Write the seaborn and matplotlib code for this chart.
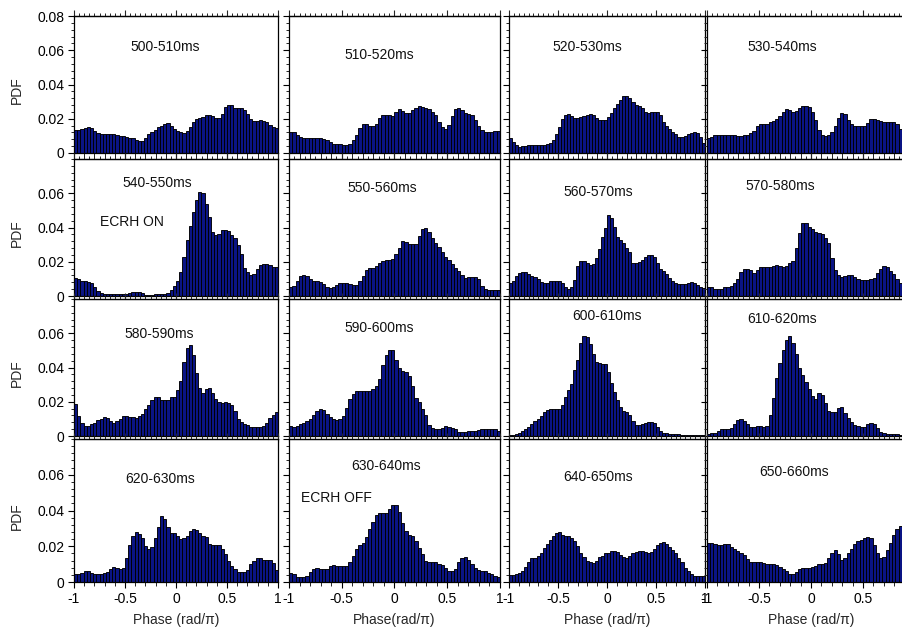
import numpy as np
import pandas as pd
import matplotlib
matplotlib.use("Agg")
import matplotlib.pyplot as plt
from matplotlib.ticker import MultipleLocator, FixedLocator, FuncFormatter
import seaborn as sns

sns.set_style("ticks")
plt.rcParams['font.family'] = ['Liberation Sans', 'DejaVu Sans']

# ---------------- data (PDF per phase bin, 64 bins from -1 to 1) ----------------
phase_min, phase_max, n_bins = -1.0, 1.0, 64

pdf_500_510 = [0.0137, 0.0135, 0.014, 0.0145, 0.015, 0.0148, 0.013, 0.0115, 0.011, 0.011, 0.011, 0.011, 0.011, 0.0105, 0.010, 0.010,
               0.0095, 0.009, 0.0085, 0.0078, 0.007, 0.0068, 0.0085, 0.011, 0.012, 0.0135, 0.015, 0.016, 0.017, 0.0175, 0.016, 0.014,
               0.013, 0.012, 0.0115, 0.013, 0.015, 0.018, 0.020, 0.0205, 0.021, 0.022, 0.022, 0.0215, 0.0205, 0.0205, 0.023, 0.027,
               0.028, 0.028, 0.0265, 0.0265, 0.026, 0.025, 0.0225, 0.020, 0.0185, 0.0185, 0.019, 0.0185, 0.018, 0.0165, 0.015, 0.0145]
pdf_510_520 = [0.012, 0.012, 0.0105, 0.0095, 0.0088, 0.0088, 0.0085, 0.0085, 0.0085, 0.0088, 0.0082, 0.0075, 0.0065, 0.0055, 0.0055, 0.0052,
               0.0045, 0.0045, 0.0052, 0.0075, 0.0105, 0.0145, 0.0168, 0.0168, 0.016, 0.0158, 0.017, 0.0205, 0.022, 0.0222, 0.022, 0.0215,
               0.024, 0.0255, 0.0248, 0.0235, 0.0235, 0.025, 0.0265, 0.0272, 0.027, 0.026, 0.0255, 0.024, 0.022, 0.018, 0.015, 0.0143,
               0.0165, 0.0215, 0.0255, 0.026, 0.025, 0.0235, 0.0225, 0.022, 0.019, 0.016, 0.0135, 0.0125, 0.0125, 0.0125, 0.0128, 0.0128]
pdf_520_530 = [0.0085, 0.0065, 0.0045, 0.0035, 0.0038, 0.0042, 0.0045, 0.0045, 0.0045, 0.0045, 0.0045, 0.0048, 0.0052, 0.0058, 0.0075, 0.011,
               0.015, 0.020, 0.0222, 0.0225, 0.0215, 0.0205, 0.0205, 0.0208, 0.0215, 0.0222, 0.0225, 0.022, 0.0205, 0.0195, 0.0195, 0.0195,
               0.021, 0.0235, 0.026, 0.0285, 0.031, 0.0332, 0.0335, 0.032, 0.0295, 0.028, 0.0275, 0.0265, 0.024, 0.0232, 0.024, 0.0242,
               0.0242, 0.022, 0.018, 0.0155, 0.014, 0.0125, 0.011, 0.0095, 0.0093, 0.0098, 0.011, 0.0118, 0.012, 0.0118, 0.0095, 0.006]
pdf_530_540 = [0.0085, 0.0095, 0.0103, 0.0104, 0.0104, 0.0104, 0.0104, 0.0106, 0.0106, 0.0102, 0.0102, 0.0106, 0.0108, 0.0115, 0.013, 0.0158,
               0.0168, 0.0168, 0.0168, 0.018, 0.0188, 0.020, 0.0215, 0.024, 0.0255, 0.025, 0.0238, 0.0245, 0.026, 0.0272, 0.0275, 0.027,
               0.024, 0.019, 0.0135, 0.0105, 0.0102, 0.0105, 0.012, 0.0155, 0.0205, 0.0235, 0.0225, 0.0195, 0.017, 0.016, 0.0158, 0.0158,
               0.016, 0.0178, 0.0198, 0.020, 0.0192, 0.0188, 0.0182, 0.018, 0.018, 0.018, 0.0168, 0.014, 0.0125, 0.012, 0.0115, 0.011]
pdf_540_550 = [0.0108, 0.0098, 0.009, 0.0085, 0.0082, 0.0075, 0.0055, 0.003, 0.0015, 0.0013, 0.0013, 0.0013, 0.0013, 0.0013, 0.0013, 0.0013,
               0.0013, 0.0018, 0.0022, 0.0022, 0.0022, 0.0018, 0.0008, 0.0006, 0.0008, 0.0012, 0.0012, 0.0012, 0.0014, 0.002, 0.0035, 0.006,
               0.0085, 0.014, 0.023, 0.0325, 0.041, 0.049, 0.056, 0.0605, 0.060, 0.054, 0.046, 0.0375, 0.0355, 0.036, 0.0385, 0.0388,
               0.038, 0.0355, 0.034, 0.0295, 0.0245, 0.0165, 0.0138, 0.0125, 0.013, 0.0155, 0.018, 0.0185, 0.0185, 0.018, 0.0172, 0.017]
pdf_550_560 = [0.0052, 0.006, 0.0085, 0.0115, 0.0125, 0.0118, 0.0098, 0.009, 0.0088, 0.0082, 0.007, 0.0052, 0.0045, 0.0052, 0.0065, 0.0078,
               0.0078, 0.0075, 0.0068, 0.0062, 0.0065, 0.0085, 0.0118, 0.015, 0.0162, 0.0165, 0.0175, 0.0192, 0.0205, 0.021, 0.0208, 0.0215,
               0.0245, 0.028, 0.032, 0.0315, 0.0305, 0.0303, 0.0303, 0.035, 0.039, 0.0395, 0.0372, 0.034, 0.031, 0.0288, 0.0258, 0.0228,
               0.021, 0.0188, 0.0162, 0.0145, 0.0125, 0.0105, 0.011, 0.0112, 0.011, 0.0098, 0.006, 0.004, 0.0037, 0.0036, 0.0036, 0.0036]
pdf_560_570 = [0.0078, 0.009, 0.0118, 0.0132, 0.014, 0.0138, 0.0128, 0.0115, 0.0112, 0.0098, 0.0082, 0.0074, 0.0075, 0.0085, 0.0088, 0.0088,
               0.0085, 0.0075, 0.0052, 0.0038, 0.005, 0.0095, 0.0175, 0.0205, 0.0205, 0.0195, 0.018, 0.0185, 0.022, 0.0275, 0.0345, 0.040,
               0.0475, 0.0455, 0.0405, 0.0345, 0.0325, 0.031, 0.028, 0.0255, 0.0195, 0.019, 0.020, 0.021, 0.0228, 0.0242, 0.024, 0.0225,
               0.0195, 0.016, 0.0148, 0.0128, 0.0108, 0.009, 0.0078, 0.0072, 0.007, 0.0072, 0.0078, 0.008, 0.0078, 0.0065, 0.0052, 0.0048]
pdf_570_580 = [0.0055, 0.0052, 0.004, 0.004, 0.004, 0.005, 0.0052, 0.006, 0.0075, 0.0098, 0.0142, 0.016, 0.016, 0.015, 0.0132, 0.015,
               0.0168, 0.0172, 0.0172, 0.0172, 0.0178, 0.0182, 0.0178, 0.017, 0.0175, 0.019, 0.0205, 0.028, 0.0365, 0.0425, 0.0428, 0.0405,
               0.039, 0.0375, 0.037, 0.0362, 0.034, 0.031, 0.022, 0.015, 0.012, 0.0112, 0.0115, 0.0122, 0.0122, 0.011, 0.0098, 0.0094,
               0.0094, 0.0096, 0.010, 0.0108, 0.0135, 0.0158, 0.0175, 0.017, 0.0148, 0.0128, 0.0102, 0.0078, 0.0074, 0.007, 0.0065, 0.006]
pdf_580_590 = [0.0185, 0.0115, 0.0078, 0.006, 0.006, 0.007, 0.0078, 0.0092, 0.0102, 0.011, 0.0105, 0.0088, 0.0075, 0.0085, 0.0102, 0.0115,
               0.0118, 0.0112, 0.011, 0.0108, 0.0115, 0.013, 0.0155, 0.018, 0.021, 0.0228, 0.0228, 0.021, 0.0208, 0.0212, 0.0228, 0.0228,
               0.027, 0.032, 0.0435, 0.0512, 0.053, 0.0475, 0.0365, 0.0278, 0.025, 0.0275, 0.0278, 0.025, 0.0215, 0.0198, 0.0195, 0.020,
               0.0195, 0.018, 0.0145, 0.0102, 0.008, 0.0068, 0.0062, 0.0055, 0.0052, 0.0052, 0.0052, 0.0058, 0.0078, 0.0108, 0.0125, 0.014]
pdf_590_600 = [0.0058, 0.0055, 0.0058, 0.0068, 0.0078, 0.0085, 0.0098, 0.0125, 0.0148, 0.0155, 0.015, 0.013, 0.0112, 0.0102, 0.0095, 0.0098,
               0.0118, 0.0165, 0.0215, 0.0245, 0.026, 0.026, 0.026, 0.026, 0.0262, 0.0275, 0.0292, 0.033, 0.0415, 0.0475, 0.0505, 0.0505,
               0.0445, 0.040, 0.0382, 0.0375, 0.035, 0.029, 0.022, 0.0198, 0.0158, 0.012, 0.0065, 0.0045, 0.0043, 0.0043, 0.0048, 0.0058,
               0.0055, 0.0045, 0.0038, 0.0025, 0.0023, 0.0023, 0.0028, 0.0028, 0.003, 0.0035, 0.0038, 0.0039, 0.0042, 0.0042, 0.0042, 0.0032]
pdf_600_610 = [0.0004, 0.0005, 0.001, 0.0018, 0.0028, 0.0038, 0.0055, 0.0068, 0.0085, 0.0098, 0.0115, 0.0138, 0.0152, 0.0158, 0.0156, 0.0156,
               0.0158, 0.018, 0.0225, 0.027, 0.0305, 0.0385, 0.0445, 0.0545, 0.0585, 0.058, 0.054, 0.048, 0.0435, 0.0428, 0.042, 0.042,
               0.0375, 0.031, 0.0255, 0.021, 0.0172, 0.0145, 0.014, 0.0122, 0.0085, 0.0065, 0.0062, 0.0068, 0.0078, 0.0082, 0.0082, 0.0075,
               0.0055, 0.0032, 0.002, 0.0016, 0.0014, 0.0014, 0.0012, 0.0009, 0.0008, 0.0008, 0.0008, 0.0006, 0.0004, 0.0004, 0.0003, 0.0003]
pdf_610_620 = [0.0014, 0.0016, 0.002, 0.0027, 0.0038, 0.0043, 0.0043, 0.0046, 0.0068, 0.0095, 0.0102, 0.009, 0.0068, 0.005, 0.0055, 0.0058,
               0.0058, 0.0055, 0.0058, 0.012, 0.022, 0.034, 0.0425, 0.0505, 0.056, 0.0585, 0.0545, 0.048, 0.040, 0.0355, 0.0315, 0.0275,
               0.0235, 0.0218, 0.025, 0.024, 0.019, 0.0145, 0.0138, 0.0138, 0.0162, 0.0168, 0.0135, 0.0105, 0.0082, 0.0065, 0.006, 0.0055,
               0.0052, 0.0068, 0.0078, 0.0072, 0.0045, 0.0022, 0.0015, 0.0014, 0.0014, 0.0014, 0.0012, 0.0008, 0.0018, 0.002, 0.002, 0.002]
pdf_620_630 = [0.0042, 0.0045, 0.0053, 0.0062, 0.006, 0.0052, 0.0043, 0.0042, 0.0043, 0.0048, 0.0058, 0.007, 0.0082, 0.0078, 0.0075, 0.0078,
               0.0135, 0.0205, 0.0255, 0.0282, 0.027, 0.0245, 0.020, 0.0185, 0.0198, 0.0245, 0.0305, 0.0372, 0.0355, 0.0305, 0.0275, 0.0272,
               0.0255, 0.0238, 0.0245, 0.0255, 0.0285, 0.0295, 0.0292, 0.0275, 0.0255, 0.0252, 0.0212, 0.0205, 0.0205, 0.0205, 0.0182, 0.0155,
               0.012, 0.009, 0.007, 0.0055, 0.0055, 0.0055, 0.0065, 0.0098, 0.012, 0.0132, 0.0132, 0.0125, 0.0122, 0.0122, 0.0105, 0.0065]
pdf_630_640 = [0.005, 0.0042, 0.0028, 0.0026, 0.0028, 0.0035, 0.0055, 0.0072, 0.0078, 0.0072, 0.007, 0.0075, 0.0088, 0.0093, 0.009, 0.0088,
               0.0088, 0.009, 0.011, 0.0148, 0.0182, 0.0205, 0.022, 0.025, 0.0295, 0.0335, 0.0375, 0.0385, 0.0387, 0.0387, 0.041, 0.043,
               0.0432, 0.039, 0.033, 0.0285, 0.0265, 0.026, 0.0232, 0.019, 0.0155, 0.0115, 0.0112, 0.0112, 0.0112, 0.0102, 0.0097, 0.0078,
               0.0062, 0.006, 0.007, 0.011, 0.0135, 0.0138, 0.0125, 0.0098, 0.008, 0.0068, 0.0064, 0.0062, 0.0052, 0.0045, 0.0035, 0.003]
pdf_640_650 = [0.0037, 0.0038, 0.0042, 0.005, 0.0064, 0.0085, 0.011, 0.0135, 0.0135, 0.0145, 0.0165, 0.019, 0.021, 0.0235, 0.0256, 0.0275,
               0.028, 0.0265, 0.0258, 0.0256, 0.0245, 0.0232, 0.020, 0.0165, 0.014, 0.012, 0.011, 0.0107, 0.0118, 0.0138, 0.0145, 0.016,
               0.0165, 0.0172, 0.0175, 0.017, 0.015, 0.0138, 0.0135, 0.0145, 0.016, 0.017, 0.0172, 0.0172, 0.0168, 0.0165, 0.017, 0.0185,
               0.0205, 0.022, 0.0225, 0.021, 0.0195, 0.018, 0.016, 0.0135, 0.011, 0.008, 0.006, 0.0045, 0.0033, 0.0032, 0.0032, 0.0032]
pdf_650_660 = [0.022, 0.0218, 0.0212, 0.0205, 0.0205, 0.021, 0.0215, 0.0198, 0.0185, 0.0172, 0.0162, 0.0152, 0.0128, 0.0112, 0.0112, 0.0112,
               0.0112, 0.0105, 0.0103, 0.0103, 0.0102, 0.0095, 0.0082, 0.0072, 0.006, 0.0047, 0.0043, 0.0058, 0.0075, 0.008, 0.008, 0.008,
               0.0085, 0.0092, 0.0103, 0.0103, 0.0108, 0.0135, 0.016, 0.018, 0.0155, 0.0122, 0.0135, 0.016, 0.0185, 0.0215, 0.0228, 0.0237,
               0.0245, 0.0252, 0.0245, 0.0206, 0.016, 0.0135, 0.014, 0.018, 0.022, 0.0265, 0.0295, 0.0315, 0.0325, 0.033, 0.033, 0.033]

panel_series = [pdf_500_510, pdf_510_520, pdf_520_530, pdf_530_540,
                pdf_540_550, pdf_550_560, pdf_560_570, pdf_570_580,
                pdf_580_590, pdf_590_600, pdf_600_610, pdf_610_620,
                pdf_620_630, pdf_630_640, pdf_640_650, pdf_650_660]
panel_titles = ["500-510ms", "510-520ms", "520-530ms", "530-540ms",
                "540-550ms", "550-560ms", "560-570ms", "570-580ms",
                "580-590ms", "590-600ms", "600-610ms", "610-620ms",
                "620-630ms", "630-640ms", "640-650ms", "650-660ms"]
notes = {4: "ECRH ON", 13: "ECRH OFF"}
x_tick_values = [-1, -0.5, 0, 0.5, 1]
x_tick_labels_by_col = [["-1", "-0.5", "0", "0.5", "1"],
                        ["-1", "-0.5", "0", "0.5", "1"],
                        ["-1", "-0.5", "0", "0.5", "1"],
                        ["-1", "-0.5", "0", "0.5", ""]]
y_ticks_top = [0, 0.02, 0.04, 0.06, 0.08]
y_ticks_other = [0, 0.02, 0.04, 0.06]
x_labels = ["Phase (rad/\u03c0)", "Phase(rad/\u03c0)", "Phase (rad/\u03c0)", "Phase (rad/\u03c0)"]
y_label = "PDF"

# ---------------- layout (pixels) ----------------
W, H = 903, 630
col_left = [74, 289, 509, 707]
col_width = [204, 211, 196, 208]
row_top = [16, 159, 299, 439]
row_bottom = [153, 296, 436, 582]

title_pos = [(0.446, 0.774), (0.427, 0.715), (0.398, 0.774), (0.36, 0.774),
             (0.41, 0.825), (0.44, 0.788), (0.454, 0.76), (0.351, 0.803),
             (0.42, 0.745), (0.427, 0.788), (0.5, 0.876), (0.36, 0.854),
             (0.42, 0.72), (0.46, 0.811), (0.454, 0.734), (0.418, 0.77)]
note_pos = {4: (0.284, 0.54), 13: (0.223, 0.587)}

bar_color = "#0a1484"
fs = 10

edges = np.linspace(phase_min, phase_max, n_bins + 1)
centers = 0.5 * (edges[:-1] + edges[1:])

fig = plt.figure(figsize=(W / 100, H / 100), dpi=100)
fig.patch.set_facecolor("white")

fmt = FuncFormatter(lambda v, p: "%g" % round(v, 4))

for k in range(16):
    r, c = divmod(k, 4)
    l = col_left[c] / W
    b = 1 - row_bottom[r] / H
    w = col_width[c] / W
    h = (row_bottom[r] - row_top[r]) / H
    ax = fig.add_axes([l, b, w, h])
    df = pd.DataFrame({"phase": centers, "pdf": panel_series[k]})
    sns.histplot(data=df, x="phase", weights="pdf", bins=n_bins,
                 binrange=(phase_min, phase_max), ax=ax,
                 color=bar_color, edgecolor="black", linewidth=0.65,
                 alpha=1.0, legend=False)
    ax.set_xlim(phase_min, phase_max)
    ax.set_ylim(0, 0.08)
    for sp in ax.spines.values():
        sp.set_visible(True)
        sp.set_linewidth(0.9)
        sp.set_color("black")

    # x ticks
    ax.xaxis.set_major_locator(FixedLocator(x_tick_values))
    ax.xaxis.set_minor_locator(MultipleLocator(0.1))
    ax.tick_params(axis="x", which="major", direction="out", length=4.5, width=0.8,
                   labelsize=fs, pad=2.5, colors="black")
    ax.tick_params(axis="x", which="minor", direction="out", length=2.8, width=0.7)
    if r == 3:
        ax.set_xticklabels(x_tick_labels_by_col[c])
        ax.set_xlabel(x_labels[c], fontsize=fs)
        ax.xaxis.set_label_coords(0.5, -0.215)
    else:
        ax.set_xticklabels([])
        ax.set_xlabel("")

    # top ticks
    sec = ax.secondary_xaxis("top")
    sec.xaxis.set_major_locator(FixedLocator(x_tick_values))
    sec.xaxis.set_minor_locator(MultipleLocator(0.05))
    sec.tick_params(which="major", direction="out", length=4, width=0.8, labeltop=False)
    sec.tick_params(which="minor", direction="out", length=2.2, width=0.7)
    sec.spines["top"].set_linewidth(0.9)

    # y ticks
    yt = y_ticks_top if r == 0 else y_ticks_other
    ax.yaxis.set_major_locator(FixedLocator(yt if c == 0 else y_ticks_top))
    ax.yaxis.set_minor_locator(MultipleLocator(0.004))
    ax.tick_params(axis="y", which="major", direction="out", length=4.5, width=0.8,
                   labelsize=fs, pad=2.5, colors="black")
    ax.tick_params(axis="y", which="minor", direction="out", length=2.4, width=0.7)
    if c == 0:
        ax.yaxis.set_major_formatter(fmt)
        ax.set_ylabel(y_label, fontsize=fs)
        ax.yaxis.set_label_coords(-0.245, 0.46)
    else:
        ax.set_yticklabels([])
        ax.set_ylabel("")

    ax.text(title_pos[k][0], title_pos[k][1], panel_titles[k], transform=ax.transAxes,
            ha="center", va="center", fontsize=fs, color="#111111")
    if k in notes:
        ax.text(note_pos[k][0], note_pos[k][1], notes[k], transform=ax.transAxes,
                ha="center", va="center", fontsize=fs, color="#111111")

fig.savefig("out.png", dpi=100, facecolor="white")
